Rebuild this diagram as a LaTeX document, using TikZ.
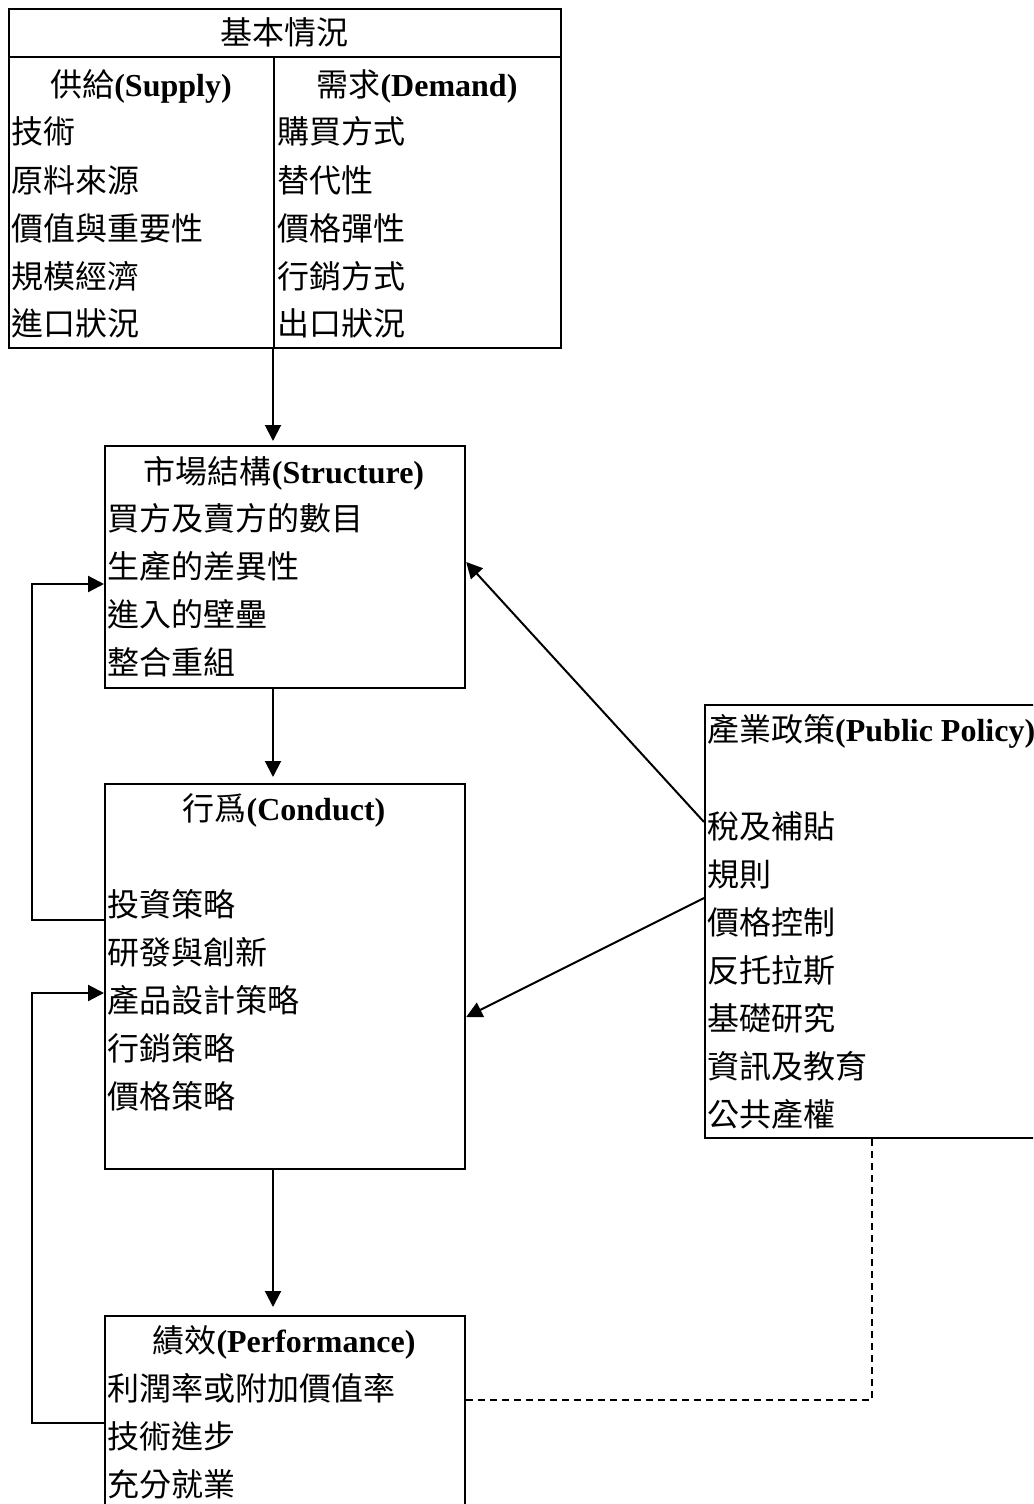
\documentclass[tikz,border=0pt]{standalone}
\usepackage{fontspec}
\setmainfont{Liberation Serif}
\newfontfamily\cjk{Noto Sans CJK TC}
\usetikzlibrary{arrows.meta}
\begin{document}
\begin{tikzpicture}[x=1pt,y=-1pt,
  box/.style={draw,line width=2.2pt,rectangle,inner sep=0pt,anchor=north west},
  txt/.style={inner sep=0pt,anchor=west,font=\fontsize{32}{38}\selectfont\cjk,text height=28pt,text depth=4pt},
  ttl/.style={inner sep=0pt,anchor=center,font=\fontsize{32}{38}\selectfont,text height=28pt,text depth=4pt},
  arr/.style={line width=2pt,-{Triangle[length=16pt,width=16pt]}},
  fb/.style={line width=2.2pt,-{Triangle[length=16pt,width=16pt]}},
  dsh/.style={line width=1.8pt,dash pattern=on 7pt off 5pt}]
\useasboundingbox (0,0) rectangle (1033,1504);
\clip (0,0) rectangle (1033,1504);
\fill[white] (0,0) rectangle (1033,1504);

% boxes
\node[box,minimum width=552pt,minimum height=339pt] (basic) at (8,8) {};
\node[box,minimum width=360pt,minimum height=242pt] (struct) at (104,445) {};
\node[box,minimum width=360pt,minimum height=385pt] (conduct) at (104,783) {};
\node[box,minimum width=360pt,minimum height=230pt] (perf) at (104,1315) {};
\node[box,minimum width=360pt,minimum height=433pt] (policy) at (704,704) {};

% table lines in basic box
\coordinate (divt) at (274,57);
\coordinate (divb) at (274,347);
\draw[line width=2.2pt] (basic.west |- divt) -- (basic.east |- divt);
\draw[line width=2.2pt] (divt) -- (divb);

% basic texts
\node[ttl,font=\fontsize{32}{38}\selectfont\cjk] (hb) at (284,33) {基本情況};
\node[ttl] (hs) at (141,84) {{\cjk 供給}\textbf{(Supply)}};
\node[ttl] (hd) at (417,84) {{\cjk 需求}\textbf{(Demand)}};
\node[txt] (s1) at (11,131) {技術};
\node[txt] (s2) at (11,180) {原料來源};
\node[txt] (s3) at (11,228) {價值與重要性};
\node[txt] (s4) at (11,276) {規模經濟};
\node[txt] (s5) at (11,323) {進口狀況};
\node[txt] (d1) at (277,131) {購買方式};
\node[txt] (d2) at (277,180) {替代性};
\node[txt] (d3) at (277,228) {價格彈性};
\node[txt] (d4) at (277,276) {行銷方式};
\node[txt] (d5) at (277,323) {出口狀況};

% structure
\node[ttl] (ht) at (284,471) {{\cjk 市場結構}\textbf{(Structure)}};
\node[txt] (t1) at (107,518) {買方及賣方的數目};
\node[txt] (t2) at (107,566) {生產的差異性};
\node[txt] (t3) at (107,614) {進入的壁壘};
\node[txt] (t4) at (107,662) {整合重組};

% conduct
\node[ttl] (hc) at (284,808) {{\cjk 行爲}\textbf{(Conduct)}};
\node[txt] (c1) at (107,904) {投資策略};
\node[txt] (c2) at (107,952) {研發與創新};
\node[txt] (c3) at (107,1000) {產品設計策略};
\node[txt] (c4) at (107,1048) {行銷策略};
\node[txt] (c5) at (107,1096) {價格策略};

% performance
\node[ttl] (hp) at (284,1340) {{\cjk 績效}\textbf{(Performance)}};
\node[txt] (p1) at (107,1388) {利潤率或附加價值率};
\node[txt] (p2) at (107,1436) {技術進步};
\node[txt] (p3) at (107,1484) {充分就業};

% policy
\node[ttl,anchor=west] (hq) at (707,729) {{\cjk 產業政策}\textbf{(Public Policy)}};
\node[txt] (q1) at (707,826) {稅及補貼};
\node[txt] (q2) at (707,874) {規則};
\node[txt] (q3) at (707,922) {價格控制};
\node[txt] (q4) at (707,970) {反托拉斯};
\node[txt] (q5) at (707,1018) {基礎研究};
\node[txt] (q6) at (707,1066) {資訊及教育};
\node[txt] (q7) at (707,1114) {公共產權};

% connectors
\coordinate (ax) at (273,0);
\draw[arr,shorten >=4pt] (divb -| ax) -- (struct.north -| ax);
\draw[arr,shorten >=6pt] (struct.south -| ax) -- (conduct.north -| ax);
\draw[arr,shorten >=8pt] (conduct.south -| ax) -- (perf.north -| ax);

\coordinate (lx) at (32,0);
\draw[fb] (conduct.west |- 0,920) -- (lx |- 0,920) -- (lx |- 0,584) -- (struct.west |- 0,584);
\draw[fb] (perf.west |- 0,1423) -- (lx |- 0,1423) -- (lx |- 0,993) -- (conduct.west |- 0,993);

\draw[arr] (policy.west |- 0,822) -- (struct.east |- 0,562);
\draw[arr] (policy.west |- 0,898) -- (conduct.east |- 0,1017);

\coordinate (dx) at (872,1400);
\draw[dsh] (policy.south -| dx) -- (dx) -- (perf.east |- dx);
\end{tikzpicture}
\end{document}
